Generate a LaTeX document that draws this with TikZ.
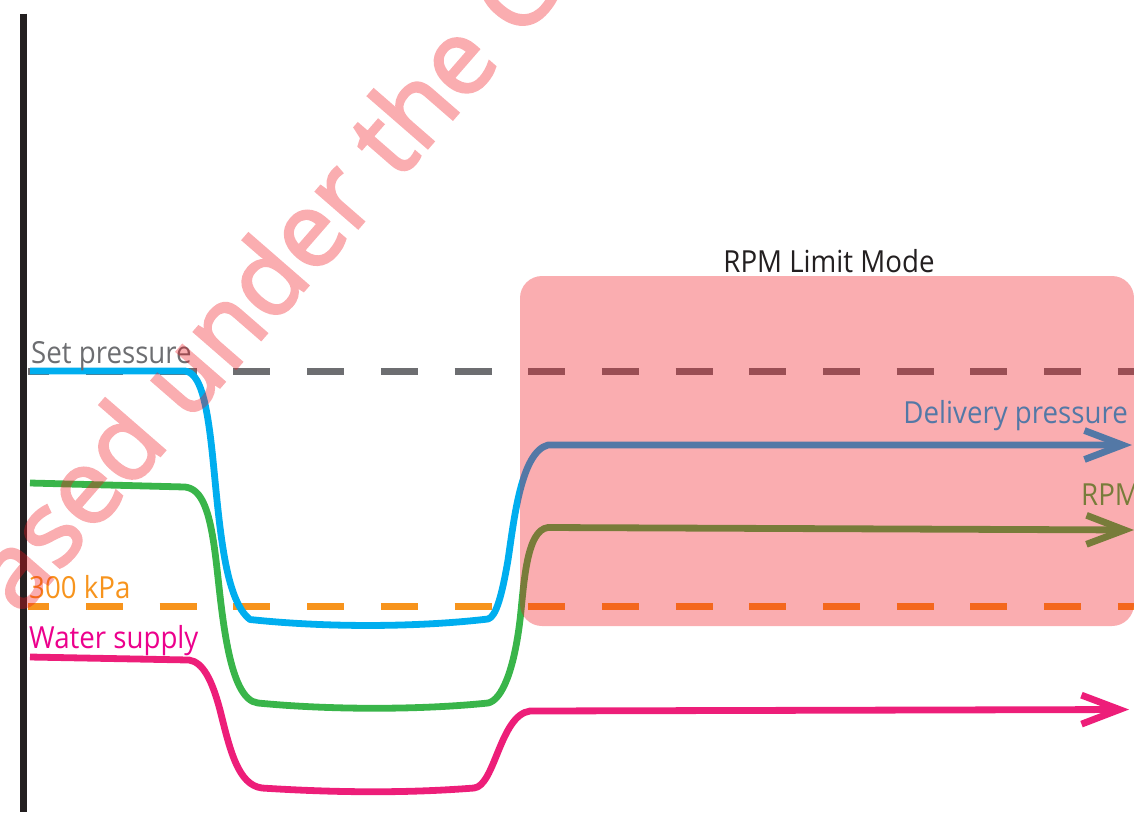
\documentclass[tikz,border=0pt]{standalone}
\usepackage{fontspec}
\setmainfont{Open Sans}[FakeStretch=0.91]
\newfontfamily\markfont{Open Sans}[FakeBold=2.5]
\usetikzlibrary{arrows.meta}

\definecolor{axisblack}{HTML}{231F20}
\definecolor{setgray}{HTML}{6D6E71}
\definecolor{kpaorange}{HTML}{F7941D}
\definecolor{deliverycyan}{HTML}{00AEEF}
\definecolor{rpmgreen}{HTML}{39B54A}
\definecolor{supplypink}{HTML}{ED1E79}
\definecolor{supplytext}{HTML}{EC008C}
\definecolor{limitred}{RGB}{240,20,30}

\tikzset{
  axisline/.style={draw=axisblack, line width=7.5pt},
  refline/.style={line width=7pt, dash pattern=on 37pt off 36.7pt, dash phase=15.7pt},
  trace/.style={line width=6.8pt, line join=round},
  tip/.style={-{Straight Barb[length=38pt,width=29pt]}},
  label/.style={inner sep=0pt, font=\fontsize{30.4}{36}\selectfont},
  shade/.style={fill=limitred, fill opacity=0.35},
}

\begin{document}
\begin{tikzpicture}[x=1pt,y=-1pt]
  \useasboundingbox (0,0) rectangle (1134,812);
  \clip (0,0) rectangle (1134,812);

  % vertical axis
  \coordinate (axtop) at (23.5,13.5);
  \coordinate (axbot) at (23.5,812);
  \draw[axisline] (axtop) -- (axbot);

  % reference levels
  \coordinate (setL) at (28,371);
  \coordinate (setR) at (1134,371);
  \coordinate (kpaL) at (28,606);
  \coordinate (kpaR) at (1134,606);
  \draw[refline, draw=setgray] (setL) -- (setR);
  \draw[refline, draw=kpaorange] (kpaL) -- (kpaR);

  % water supply
  \coordinate (wsStart) at (30,657);
  \coordinate (wsEnd) at (1129,709.5);
  \draw[trace, tip, draw=supplypink] (wsStart) -- (189,660)
    .. controls (203,662) and (212,680) .. (220,710)
    .. controls (230,750) and (238,785) .. (262,788)
    .. controls (340,793) and (410,793) .. (474,788)
    .. controls (495,786) and (500,715) .. (530,711)
    -- (wsEnd);

  % RPM
  \coordinate (rpmStart) at (30,483);
  \coordinate (rpmEnd) at (1134,530);
  \draw[trace, tip, draw=rpmgreen] (rpmStart) -- (185,487)
    .. controls (202,489) and (210,510) .. (216,560)
    .. controls (222,610) and (228,700) .. (258,703)
    .. controls (330,710) and (420,710) .. (488,703)
    .. controls (502,700) and (514,670) .. (520,620)
    .. controls (524,585) and (526,530) .. (548,527.5)
    -- (rpmEnd);

  % delivery pressure
  \coordinate (dpStart) at (30,371);
  \coordinate (dpEnd) at (1132,445);
  \draw[trace, tip, draw=deliverycyan] (dpStart) -- (185,371)
    .. controls (200,373) and (207,400) .. (213,460)
    .. controls (220,530) and (225,600) .. (250,619.5)
    .. controls (330,628) and (420,627) .. (488,619)
    .. controls (496,617) and (502,595) .. (508,560)
    .. controls (514,520) and (521,452) .. (548,445)
    -- (dpEnd);

  % labels
  \node[label, text=setgray, anchor=base west] (setlbl) at (31,363) {Set pressure};
  \node[label, text=kpaorange, anchor=base west] (kpalbl) at (29,598) {300 kPa};
  \node[label, text=supplytext, anchor=base west] (wslbl) at (29,648) {Water supply};
  \node[label, text=deliverycyan, anchor=base east] (dplbl) at (1128,423.3) {Delivery pressure};
  \node[label, text=rpmgreen, anchor=base west] (rpmlbl) at (1081,505) {RPM};
  \node[label, text=axisblack, anchor=base] (modelbl) at (829,272) {RPM Limit Mode};

  % RPM limit region
  \fill[shade, rounded corners=22pt] (520,276) rectangle (1134,626);

  % licence mark, faded as one group so the emboldened outlines do not stack
  \begin{scope}[transparency group, opacity=0.35]
    \node[inner sep=0pt, rotate=49, anchor=base west, text=limitred,
          font=\markfont\fontsize{104}{120}\selectfont] (licence) at (20,617) {ased under the C};
  \end{scope}
\end{tikzpicture}
\end{document}
